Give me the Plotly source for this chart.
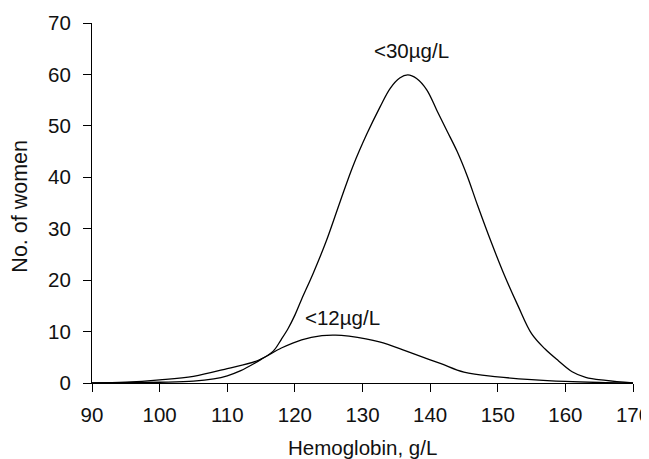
import plotly.graph_objects as go

# Hemoglobin (g/L) and number of women
hb_30 = [90, 95, 100, 105, 108, 110, 112, 114, 115, 116.8, 118, 119, 120, 121, 122.7,
         124.7, 126.7, 128.6, 130.6, 132.6, 134.1, 135.5, 136.7, 138, 139.5, 141,
         142.5, 144, 145.5, 147, 149, 151, 153, 155, 157, 159, 161, 163, 166, 170]
women_30 = [0, 0.05, 0.15, 0.35, 0.8, 1.4, 2.4, 3.8, 4.6, 6.2, 8.5, 10.6, 13.2, 16.3, 21.3,
            27.8, 35.3, 42.2, 48.3, 53.7, 57.3, 59.3, 59.9, 59.2, 57.0, 53.0,
            49.0, 45.0, 40.2, 34.6, 27.5, 20.9, 15.0, 9.6, 6.6, 4.3, 2.2, 1.1, 0.5, 0]

hb_12 = [90, 95, 100, 105, 110, 114.6, 118, 121, 124, 126, 128, 130.5, 132.5, 135.5,
         137.5, 141.5, 145, 150, 155, 160, 165, 170]
women_12 = [0, 0.15, 0.6, 1.3, 2.8, 4.4, 6.8, 8.4, 9.2, 9.3, 9.1, 8.6, 8.0, 6.7,
            5.7, 3.8, 2.1, 1.2, 0.65, 0.3, 0.1, 0]

x_ticks = [90, 100, 110, 120, 130, 140, 150, 160, 170]
y_ticks = [0, 10, 20, 30, 40, 50, 60, 70]

label_30 = "<30µg/L"
label_12 = "<12µg/L"

FONT = "Liberation Sans, Arial, sans-serif"
FS = 20.5
line = dict(color="black", width=1.3, shape="spline", smoothing=1.0)

fig = go.Figure()
fig.add_trace(go.Scatter(x=hb_30, y=women_30, mode="lines", line=line, name=label_30))
fig.add_trace(go.Scatter(x=hb_12, y=women_12, mode="lines", line=line, name=label_12))

fig.add_annotation(x=137.3, y=64.7, text=label_30, showarrow=False,
                   font=dict(size=FS, color="#111", family=FONT))
fig.add_annotation(x=127.1, y=12.8, text=label_12, showarrow=False,
                   font=dict(size=FS, color="#111", family=FONT))

# axis titles
fig.add_annotation(x=0.5, xref="paper", y=-0.178, yref="paper", yanchor="middle",
                   text="Hemoglobin, g/L", showarrow=False,
                   font=dict(size=FS, color="#111", family=FONT))
fig.add_annotation(x=-0.133, xref="paper", y=0.49, yref="paper", xanchor="center",
                   yanchor="middle", text="No. of women", textangle=-90, showarrow=False,
                   font=dict(size=21.5, color="#111", family=FONT))

fig.update_layout(
    width=641, height=451,
    margin=dict(l=84, r=16, t=15, b=76, autoexpand=False),
    paper_bgcolor="white", plot_bgcolor="white",
    showlegend=False,
    font=dict(family=FONT, size=FS, color="#111"),
)
fig.update_xaxes(range=[90, 170], tickvals=x_ticks, ticktext=[str(v) for v in x_ticks],
                 showline=True, linecolor="black", linewidth=1.2, automargin=False,
                 ticklabeloverflow="allow",
                 ticks="outside", ticklen=8, tickcolor="black", tickwidth=1.2,
                 showgrid=False, zeroline=False, ticklabelstandoff=5)
fig.update_yaxes(range=[0, 70], tickvals=y_ticks, ticktext=[str(v) for v in y_ticks],
                 showline=True, linecolor="black", linewidth=1.2, automargin=False,
                 ticklabeloverflow="allow",
                 ticks="outside", ticklen=8, tickcolor="black", tickwidth=1.2,
                 showgrid=False, zeroline=False, ticklabelstandoff=8)

fig.write_html("out.html")
